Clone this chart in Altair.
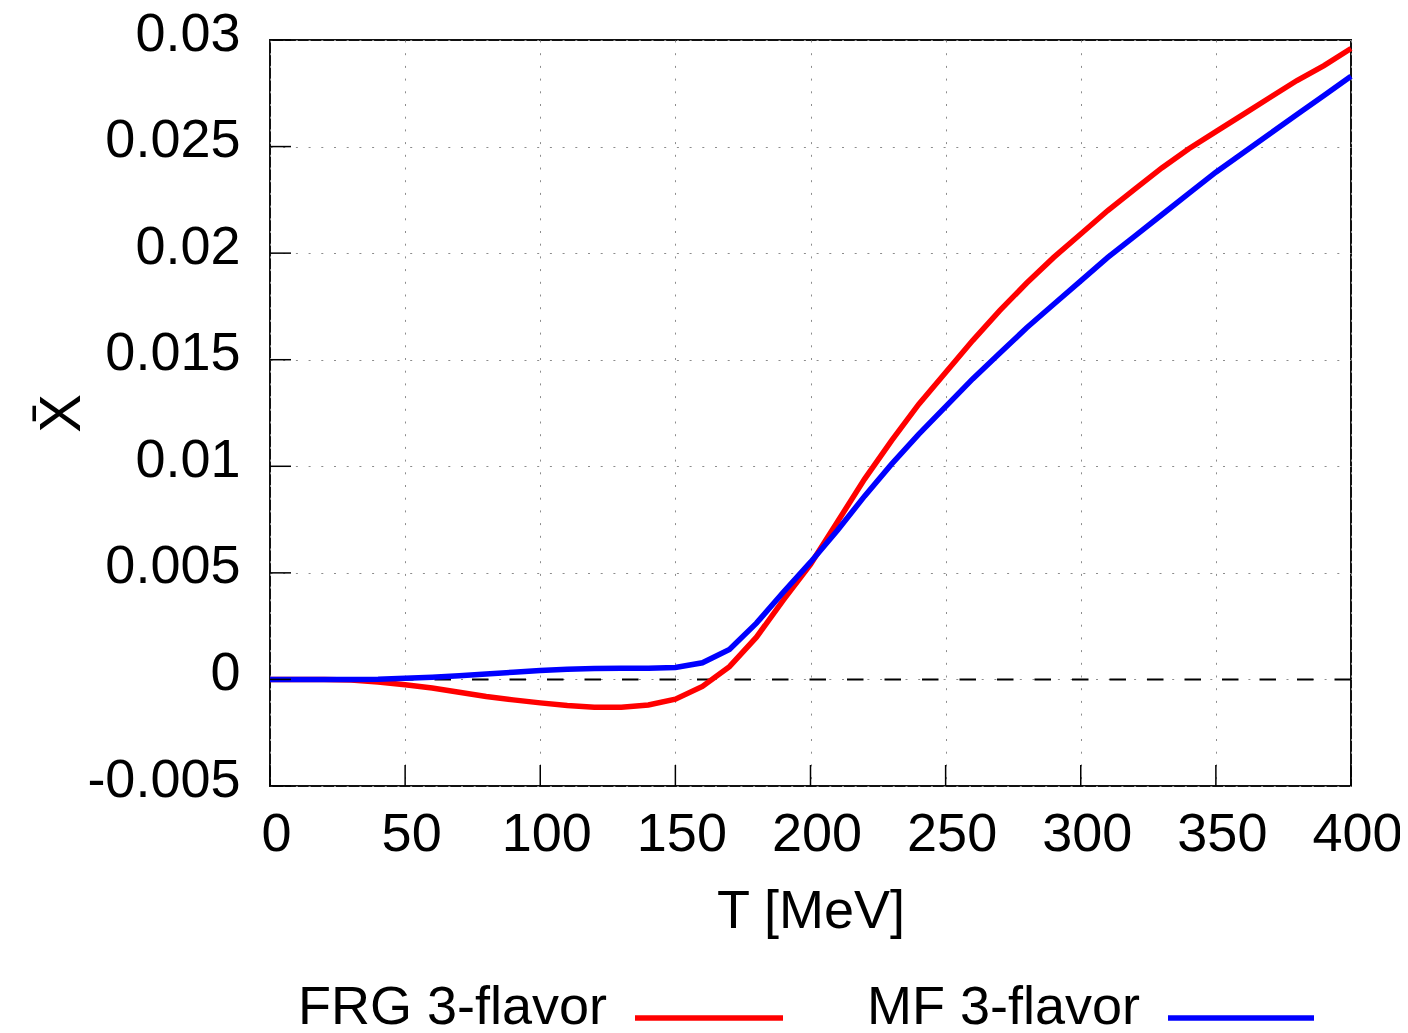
import altair as alt
import pandas as pd

# ---- data ----
T = [0, 10, 20, 30, 40, 50, 60, 70, 80, 90, 100, 110, 120, 130, 140, 150, 160, 170, 180, 190, 200,
     210, 220, 230, 240, 250, 260, 270, 280, 290, 300, 310, 320, 330, 340, 350, 360, 370, 380, 390, 400]
frg = [0, 0, 0, -0.00003, -0.00012, -0.00025, -0.0004, -0.0006, -0.0008, -0.00096, -0.0011, -0.00122,
       -0.0013, -0.0013, -0.0012, -0.00093, -0.00033, 0.0006, 0.00198, 0.00373, 0.0054,
       0.0074, 0.0094, 0.0112, 0.0129, 0.0144, 0.0159, 0.0173, 0.0186, 0.0198, 0.0209,
       0.0220, 0.0230, 0.0240, 0.0249, 0.0257, 0.0265, 0.0273, 0.0281, 0.0288, 0.0296]
mf = [0, 0, 0, 0, 0.00001, 0.00005, 0.0001, 0.00017, 0.00025, 0.00034, 0.00042, 0.00048,
      0.00051, 0.00053, 0.00052, 0.00056, 0.00078, 0.0014, 0.00264, 0.0041, 0.0055,
      0.0070, 0.0086, 0.0101, 0.0115, 0.0128, 0.0141, 0.0153, 0.0165, 0.0176, 0.0187,
      0.0198, 0.0208, 0.0218, 0.0228, 0.0238, 0.0247, 0.0256, 0.0265, 0.0274, 0.0283]
series_names = ["FRG 3-flavor", "MF 3-flavor"]
series_colors = ["#ff0000", "#0000ff"]

x_ticks = [0, 50, 100, 150, 200, 250, 300, 350, 400]
y_ticks = [-0.005, 0, 0.005, 0.01, 0.015, 0.02, 0.025, 0.03]
y_tick_labels = ["-0.005", "0", "0.005", "0.01", "0.015", "0.02", "0.025", "0.03"]

x_title = "T [MeV]"
y_title = "X\u0304"

FONT = "Liberation Sans"
FS = 54
W, H = 1081, 746
GRID = "#8c8c8c"
LW = 5.5

df = pd.DataFrame({
    "T": T * 2,
    "v": frg + mf,
    "s": [series_names[0]] * len(T) + [series_names[1]] * len(T),
})

y_label_expr = "[" + ",".join("'%s'" % l for l in y_tick_labels) + "][indexof([" + \
    ",".join(repr(v) for v in y_ticks) + "], datum.value)]"

xscale = alt.Scale(domain=[0, 400], nice=False, zero=False)
yscale = alt.Scale(domain=[-0.005, 0.03], nice=False, zero=False)

xaxis = alt.Axis(values=x_ticks, title=x_title, grid=True, gridColor=GRID, gridDash=[2, 10.7],
                 gridWidth=1, domain=False, ticks=False, tickSize=0, labelFont=FONT, labelFontSize=FS,
                 labelColor="black", labelPadding=64, labelBaseline="alphabetic", labelOffset=6,
                 labelFlush=False, labelOverlap=False,
                 titleFont=FONT, titleFontSize=FS, titleFontWeight="normal", titleColor="black",
                 titleBaseline="alphabetic", titleY=141, titleX=W / 2, titleAlign="center")
yaxis = alt.Axis(values=y_ticks, title=y_title, grid=True, gridColor=GRID, gridDash=[2, 10.7],
                 gridWidth=1, domain=False, ticks=False, tickSize=0, labelFont=FONT, labelFontSize=FS,
                 labelColor="black", labelPadding=30, labelAlign="right", labelBaseline="alphabetic",
                 labelOffset=10, labelFlush=False, labelOverlap=False, labelExpr=y_label_expr,
                 titleFont=FONT, titleFontSize=58, titleFontWeight="normal", titleColor="black",
                 titleAngle=270, titleBaseline="alphabetic", titleX=-191, titleY=H / 2, titleAlign="center")

grid_layer = alt.Chart(pd.DataFrame({"T": [0], "v": [0]})).mark_point(opacity=0).encode(
    x=alt.X("T:Q", scale=xscale, axis=xaxis),
    y=alt.Y("v:Q", scale=yscale, axis=yaxis),
)

zero_line = alt.Chart(pd.DataFrame({"v": [0]})).mark_rule(
    color="black", strokeWidth=2, strokeDash=[16.5, 21]
).encode(y=alt.Y("v:Q", scale=yscale))

lines = alt.Chart(df).mark_line(strokeWidth=LW).encode(
    x=alt.X("T:Q", scale=xscale),
    y=alt.Y("v:Q", scale=yscale),
    color=alt.Color("s:N", scale=alt.Scale(domain=series_names, range=series_colors), legend=None),
    order=alt.Order("T:Q"),
)

ytick_marks = alt.Chart(pd.DataFrame({"v": y_ticks})).mark_rule(color="black", strokeWidth=1.5).encode(
    y=alt.Y("v:Q", scale=yscale), x=alt.value(0), x2=alt.value(21))
xtick_marks = alt.Chart(pd.DataFrame({"T": x_ticks})).mark_rule(color="black", strokeWidth=1.5).encode(
    x=alt.X("T:Q", scale=xscale), y=alt.value(H - 21), y2=alt.value(H))

# manual gnuplot-style key (text left of sample line)
leg_df = pd.DataFrame({"s": series_names})
leg_text_x = [337, 870]
leg_line_x = [(365, 513), (898, 1044)]
legend_layers = []
for i, name in enumerate(series_names):
    d = leg_df[leg_df.s == name]
    legend_layers.append(alt.Chart(d).mark_text(
        font=FONT, fontSize=FS, align="right", baseline="alphabetic", color="black"
    ).encode(text="s:N", x=alt.value(leg_text_x[i]), y=alt.value(984)))
    legend_layers.append(alt.Chart(d).mark_rule(strokeWidth=LW, color=series_colors[i]).encode(
        x=alt.value(leg_line_x[i][0]), x2=alt.value(leg_line_x[i][1]), y=alt.value(978)))

chart = alt.layer(grid_layer, zero_line, lines, ytick_marks, xtick_marks, *legend_layers).properties(
    width=W, height=H,
    autosize=alt.AutoSizeParams(type="none"),
    padding={"left": 262, "top": 32, "right": 49, "bottom": 239},
    background="white",
).configure_view(stroke="#111111", strokeWidth=2)

chart.save("out.html", embed_options={"renderer": "svg", "actions": False})
